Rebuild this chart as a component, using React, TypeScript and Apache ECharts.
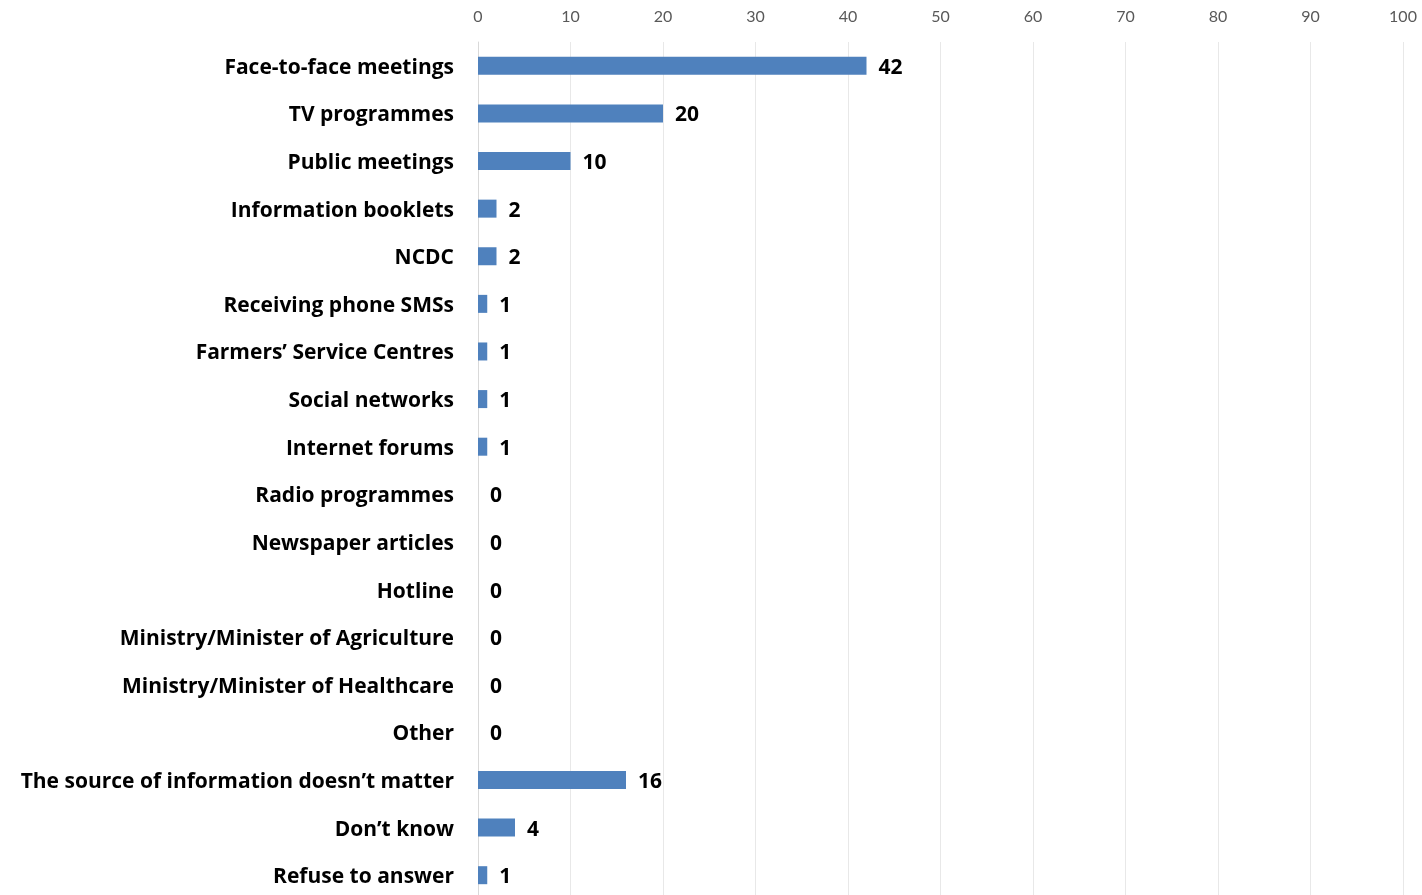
import React, { useEffect, useRef } from "react";
import * as echarts from "echarts";

const categories = [
  "Face-to-face meetings",
  "TV programmes",
  "Public meetings",
  "Information booklets",
  "NCDC",
  "Receiving phone SMSs",
  "Farmers’ Service Centres",
  "Social networks",
  "Internet forums",
  "Radio programmes",
  "Newspaper articles",
  "Hotline",
  "Ministry/Minister of Agriculture",
  "Ministry/Minister of Healthcare",
  "Other",
  "The source of information doesn’t matter",
  "Don’t know",
  "Refuse to answer",
];
const values = [42, 20, 10, 2, 2, 1, 1, 1, 1, 0, 0, 0, 0, 0, 0, 16, 4, 1];
const axisMin = 0;
const axisMax = 100;
const axisInterval = 10;

export default function App() {
  const ref = useRef<HTMLDivElement>(null);
  useEffect(() => {
    const chart = echarts.init(ref.current!, null, { renderer: "svg" });
    chart.setOption({
      animation: false,
      grid: { left: 478, right: 19, top: 42, bottom: 0, containLabel: false },
      xAxis: {
        type: "value",
        position: "top",
        min: axisMin,
        max: axisMax,
        interval: axisInterval,
        axisLine: { show: false },
        axisTick: { show: false },
        axisLabel: {
          color: "#595959",
          fontSize: 16,
          fontFamily: "Lato, 'Open Sans', sans-serif",
          margin: 19,
        },
        splitLine: { show: true, lineStyle: { color: "#e8e8e8", width: 1 } },
      },
      yAxis: {
        type: "category",
        inverse: true,
        data: categories,
        axisLine: { show: true, lineStyle: { color: "#d9d9d9", width: 1 } },
        axisTick: { show: false },
        axisLabel: {
          color: "#000",
          fontSize: 21,
          fontWeight: "bold",
          fontFamily: "'Open Sans', sans-serif",
          margin: 24,
        },
      },
      series: [
        {
          type: "bar",
          data: values,
          barWidth: 18,
          itemStyle: { color: "#4F81BD" },
          label: {
            show: true,
            position: "right",
            distance: 12,
            color: "#000",
            fontSize: 21,
            fontWeight: "bold",
            fontFamily: "'Open Sans', sans-serif",
          },
        },
      ],
    });
    return () => chart.dispose();
  }, []);
  return (
    <div
      ref={ref}
      style={{ position: "fixed", left: 0, top: 0, width: 1422, height: 899 }}
    />
  );
}
